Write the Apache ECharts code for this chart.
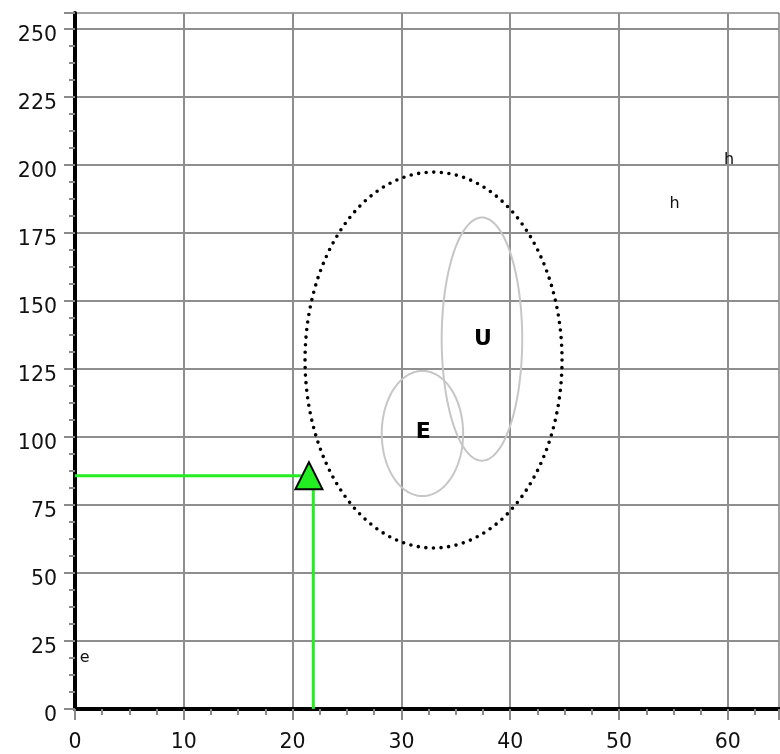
<!DOCTYPE html>
<html>
<head>
<meta charset="utf-8">
<script src="https://cdn.jsdelivr.net/npm/echarts@6/dist/echarts.min.js"></script>
<style>html,body{margin:0;padding:0;background:#fff}#c{width:780px;height:754px}</style>
</head>
<body>
<div id="c"></div>
<script>
// Axis ranges
const xRange = [0, 64.7];
const yRange = [0, 255.9];
const xStep = 10;
const yStep = 25;

// Ellipses (center x, center y, radius x, radius y) in data units
const ellipseNames = ['outer', 'U', 'E'];
const ellipseCX = [32.95, 37.4, 31.93];
const ellipseCY = [128.3, 136.0, 101.3];
const ellipseRX = [11.81, 3.7, 3.74];
const ellipseRY = [69.1, 44.7, 23.0];

// Region labels
const regionLabels = ['U', 'E'];
const regionLabelX = [37.5, 32.0];
const regionLabelY = [135.8, 101.7];

// Small annotations
const noteLabels = ['h', 'h', 'e'];
const noteX = [60.1, 55.1, 0.9];
const noteY = [201.8, 185.8, 18.9];

// Marker point and its guide lines
const pointX = [21.5];
const pointY = [85.8];
const guideHX = [0, 21.5];
const guideHY = [85.8, 85.8];
const guideVX = [21.9, 21.9];
const guideVY = [85.8, 0];

const FONT = 'DejaVu Sans';
const chart = echarts.init(document.getElementById('c'), null, {renderer: 'canvas'});

const ellipseData = ellipseNames.map((n, i) => [ellipseCX[i], ellipseCY[i], ellipseRX[i], ellipseRY[i], i]);

function axisCommon(range, step) {
  return {
    type: 'value', min: range[0], max: range[1], interval: step,
    axisLine: {show: true, onZero: false, lineStyle: {color: '#000', width: 4}},
    axisTick: {show: true, length: 11, lineStyle: {color: '#8a8a8a', width: 2}},
    minorTick: {show: true, splitNumber: 4, length: 6, lineStyle: {color: '#8a8a8a', width: 2}},
    splitLine: {show: true, showMaxLine: false, lineStyle: {color: '#8e8e8e', width: 2}},
    axisLabel: {showMaxLabel: false, color: '#111', fontFamily: FONT, fontSize: 20.5}
  };
}

const xAxis = axisCommon(xRange, xStep);
xAxis.axisLabel.margin = 23;
const yAxis = axisCommon(yRange, yStep);
yAxis.axisLabel.margin = 18;
yAxis.axisLabel.verticalAlign = 'top';
yAxis.axisLabel.lineHeight = 13;

chart.setOption({
  backgroundColor: '#fff',
  animation: false,
  grid: {left: 75, right: 1, top: 13, bottom: 45, show: true, borderColor: '#444', borderWidth: 1, backgroundColor: 'transparent'},
  xAxis: xAxis,
  yAxis: yAxis,
  series: [
    {
      type: 'custom',
      data: ellipseData,
      z: 3,
      renderItem: function (params, api) {
        const c = api.coord([api.value(0), api.value(1)]);
        const s = api.size([api.value(2), api.value(3)]);
        const idx = api.value(4);
        const pts = [];
        for (let k = 0; k <= 360; k += 2) {
          const t = k * Math.PI / 180;
          pts.push([c[0] + s[0] * Math.cos(t), c[1] + s[1] * Math.sin(t)]);
        }
        const style = idx === 0
          ? {fill: 'none', stroke: '#000', lineWidth: 3.6, lineDash: [0, 7.6], lineCap: 'round'}
          : {fill: 'none', stroke: '#c6c6c6', lineWidth: 2};
        return {type: 'polyline', shape: {points: pts}, style: style};
      }
    },
    {
      type: 'line', data: guideHX.map((x, i) => [x, guideHY[i]]), symbol: 'none', z: 4,
      lineStyle: {color: '#22ee22', width: 3, opacity: 1}
    },
    {
      type: 'line', data: guideVX.map((x, i) => [x, guideVY[i]]), symbol: 'none', z: 4,
      lineStyle: {color: '#22ee22', width: 3, opacity: 1}
    },
    {
      type: 'scatter', data: pointX.map((x, i) => [x, pointY[i]]), symbol: 'triangle', symbolSize: [27, 27], z: 5,
      itemStyle: {color: '#22ee22', borderColor: '#000', borderWidth: 2, opacity: 1}
    },
    {
      type: 'scatter', symbolSize: 0, z: 6,
      itemStyle: {opacity: 1},
      data: regionLabels.map((t, i) => ({value: [regionLabelX[i], regionLabelY[i]], name: t})),
      label: {show: true, position: 'inside', formatter: '{b}', color: '#000', fontFamily: FONT, fontWeight: 'bold', fontSize: 22}
    },
    {
      type: 'scatter', symbolSize: 0, z: 6,
      itemStyle: {opacity: 1},
      data: noteLabels.map((t, i) => ({value: [noteX[i], noteY[i]], name: t})),
      label: {show: true, position: 'inside', formatter: '{b}', color: '#111', fontFamily: FONT, fontSize: 16}
    }
  ]
});
</script>
</body>
</html>
